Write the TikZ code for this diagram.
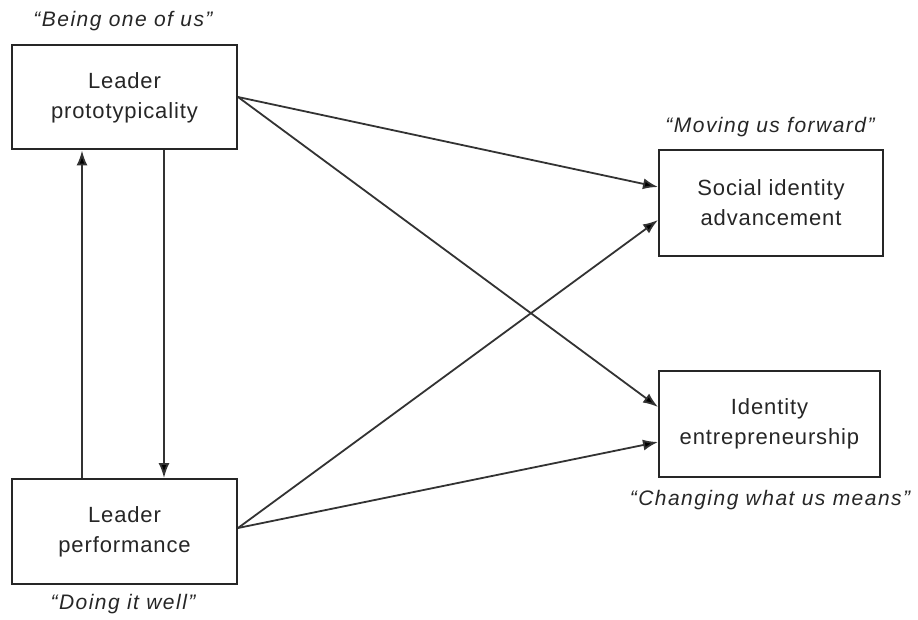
\documentclass[tikz,border=0pt]{standalone}
\usepackage{fontspec}
\setmainfont{Liberation Sans}
\usetikzlibrary{arrows.meta}
\begin{document}
\begin{tikzpicture}[x=1pt,y=-1pt,
  box/.style={draw=black!85, line width=2pt, fill=white, align=center, font=\fontsize{22}{30}\selectfont\addfontfeatures{LetterSpace=4}, text=black!85, inner sep=0pt},
  quote/.style={font=\fontsize{21}{25}\selectfont\itshape\addfontfeatures{LetterSpace=7}, text=black!85, inner sep=0pt},
  arr/.style={draw=black!80, line width=1.8pt, -{Latex[length=15pt,width=11pt,fill=black]}}]
\useasboundingbox (0,0) rectangle (918,620);
\node[box, minimum width=225pt, minimum height=104pt] (lp) at (124.5,97.5) {Leader\\prototypicality};
\node[box, minimum width=225pt, minimum height=105pt] (lf) at (124.5,531.5) {Leader\\performance};
\node[box, minimum width=224pt, minimum height=106pt] (sia) at (771,203) {Social identity\\advancement};
\node[box, minimum width=221pt, minimum height=106pt] (ie) at (769.5,424) {Identity\\entrepreneurship};
\node[quote] (q1) at (123,21) {``Being one of us''};
\node[quote] (q2) at (123,604) {``Doing it well''};
\node[quote] (q3) at (770,127) {``Moving us forward''};
\node[quote] (q4) at (770,500) {``Changing what us means''};
\draw[arr] ([xshift=71pt]lf.north west) -- ([xshift=71pt]lp.south west);
\draw[arr] ([xshift=153pt]lp.south west) -- ([xshift=153pt]lf.north west);
\draw[arr] ([yshift=0.5pt]lp.east) -- ([yshift=16pt]sia.west);
\draw[arr] ([yshift=0.5pt]lp.east) -- ([yshift=17pt]ie.west);
\draw[arr] ([yshift=3.5pt]lf.east) -- ([yshift=-17pt]sia.west);
\draw[arr] ([yshift=3.5pt]lf.east) -- ([yshift=-18pt]ie.west);
\end{tikzpicture}
\end{document}
